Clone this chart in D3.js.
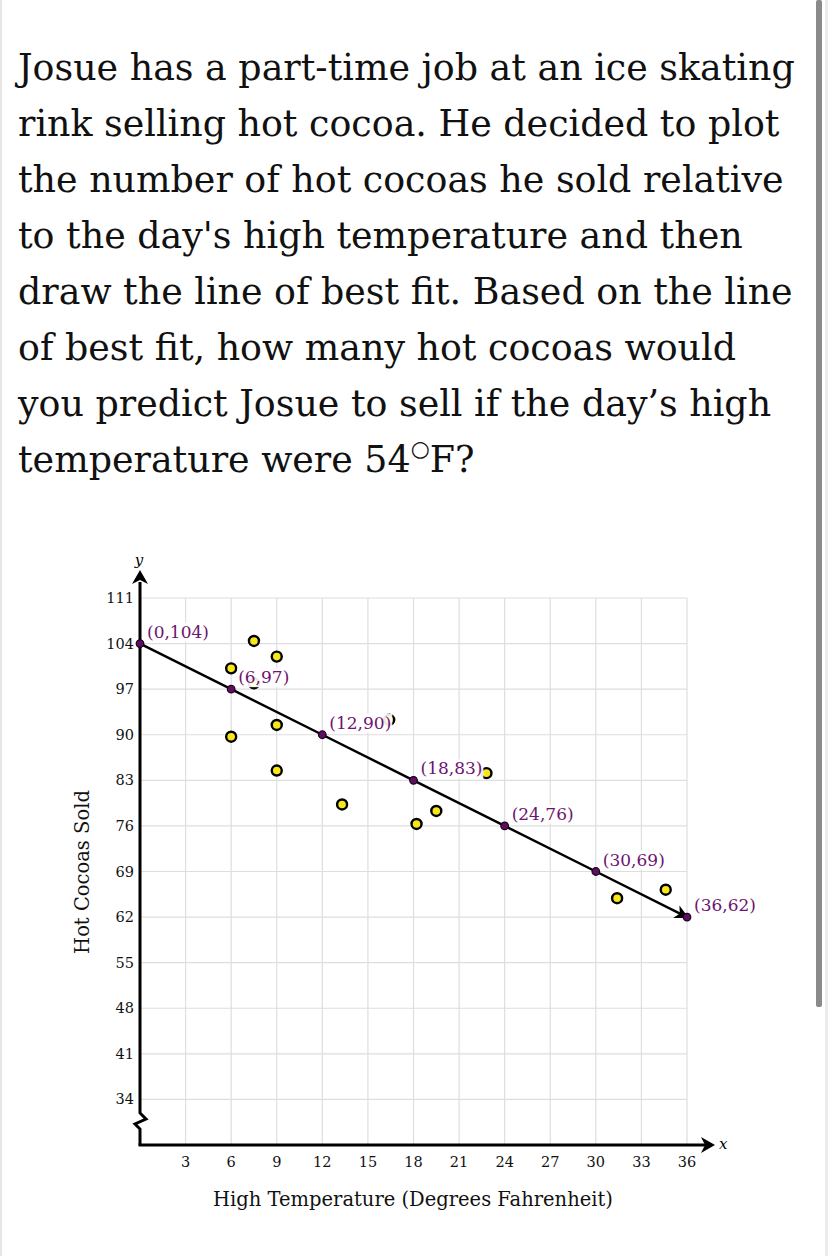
<!DOCTYPE html>
<html>
<head>
<meta charset="utf-8">
<script src="https://cdn.jsdelivr.net/npm/d3@7"></script>
<style>
  html, body { margin: 0; padding: 0; background: #fff; }
  svg { display: block; }
</style>
</head>
<body>
<svg id="chart" width="828" height="1256"></svg>
<script>
// ---- data ----
const questionLines = [
  "Josue has a part-time job at an ice skating",
  "rink selling hot cocoa. He decided to plot",
  "the number of hot cocoas he sold relative",
  "to the day's high temperature and then",
  "draw the line of best fit. Based on the line",
  "of best fit, how many hot cocoas would",
  "you predict Josue to sell if the day\u2019s high"
];
const lastLinePre = "temperature were 54";
const lastLinePost = "F?";

const xTicks = [3, 6, 9, 12, 15, 18, 21, 24, 27, 30, 33, 36];
const yTicks = [34, 41, 48, 55, 62, 69, 76, 83, 90, 97, 104, 111];

const scatterX = [6, 7.5, 9, 7.5, 9, 6, 9, 13.3, 16.4, 18.2, 19.5, 22.8, 31.4, 34.6];
const scatterY = [100.2, 104.4, 102, 97.9, 91.5, 89.7, 84.5, 79.3, 92.3, 76.3, 78.3, 84.1, 64.9, 66.2];

const fitX = [0, 6, 12, 18, 24, 30, 36];
const fitY = [104, 97, 90, 83, 76, 69, 62];
const fitLabels = ["(0,104)", "(6,97)", "(12,90)", "(18,83)", "(24,76)", "(30,69)", "(36,62)"];

const xTitle = "High Temperature (Degrees Fahrenheit)";
const yTitle = "Hot Cocoas Sold";

// ---- drawing ----
const svg = d3.select("#chart");
const SERIF = "'DejaVu Serif', 'Liberation Serif', serif";

// screen chrome: left edge + scrollbar
svg.append("rect").attr("x", 0).attr("y", 0).attr("width", 2).attr("height", 1256).attr("fill", "#e6e6e6");
svg.append("rect").attr("x", 825).attr("y", 0).attr("width", 3).attr("height", 1256).attr("fill", "#ececec");
svg.append("rect").attr("x", 816).attr("y", 0).attr("width", 6).attr("height", 1007).attr("rx", 2).attr("fill", "#8a8a8a");

// question text
const qg = svg.append("g").attr("font-family", SERIF).attr("fill", "#111");
let qSize = 36;
const probe = qg.append("text").attr("font-size", qSize).text(questionLines[0]);
const w = probe.node().getComputedTextLength();
qSize = qSize * 777 / w;
probe.remove();
const lineGap = 56, firstBase = 80;
questionLines.forEach((t, i) => {
  qg.append("text").attr("x", 18).attr("y", firstBase + i * lineGap)
    .attr("font-size", qSize).text(t);
});
const last = qg.append("text").attr("x", 18).attr("y", firstBase + 7 * lineGap).attr("font-size", qSize);
last.append("tspan").text(lastLinePre);
last.append("tspan").attr("font-size", qSize * 0.6).attr("dy", -qSize * 0.45).text("\u25CB");
last.append("tspan").attr("dy", qSize * 0.45).text(lastLinePost);

// scales
const x = d3.scaleLinear().domain([0, 36]).range([140, 687]);
const y = d3.scaleLinear().domain([27, 111]).range([1145, 598]);

// grid
const grid = svg.append("g").attr("stroke", "#dedede").attr("stroke-width", 1.2);
grid.selectAll("line.v").data(xTicks).join("line")
  .attr("x1", d => x(d)).attr("x2", d => x(d))
  .attr("y1", y(111)).attr("y2", y(27));
grid.selectAll("line.h").data(yTicks).join("line")
  .attr("x1", x(0)).attr("x2", x(36))
  .attr("y1", d => y(d)).attr("y2", d => y(d));

// y axis with break
const ax = svg.append("g");
const x0 = x(0), yb = y(27);
ax.append("path")
  .attr("d", `M${x0},${yb} L${x0},${yb - 16} L${x0 - 5},${yb - 21} L${x0 + 6},${yb - 26} L${x0},${yb - 32} L${x0},582`)
  .attr("fill", "none").attr("stroke", "#000").attr("stroke-width", 3).attr("stroke-linejoin", "miter");
ax.append("path").attr("d", `M${x0},570 L${x0 + 8},584 L${x0},580 L${x0 - 8},584 Z`).attr("fill", "#000");
ax.append("text").attr("x", x0 - 1).attr("y", 565).attr("text-anchor", "middle")
  .attr("font-family", SERIF).attr("font-style", "italic").attr("font-size", 15).text("y");

// x axis
ax.append("line").attr("x1", x0 - 1.5).attr("x2", 706).attr("y1", yb).attr("y2", yb)
  .attr("stroke", "#000").attr("stroke-width", 3);
ax.append("path").attr("d", `M715,${yb} L701,${yb - 8} L705,${yb} L701,${yb + 8} Z`).attr("fill", "#000");
ax.append("text").attr("x", 719).attr("y", yb + 4).attr("font-family", SERIF)
  .attr("font-style", "italic").attr("font-size", 15).text("x");

// tick labels
const tl = svg.append("g").attr("font-family", SERIF).attr("font-size", 14.5).attr("fill", "#111");
tl.selectAll("text.yt").data(yTicks).join("text")
  .attr("x", 134).attr("y", d => y(d) + 5).attr("text-anchor", "end").text(d => d);
tl.selectAll("text.xt").data(xTicks).join("text")
  .attr("x", d => x(d)).attr("y", yb + 22).attr("text-anchor", "middle").text(d => d);

// axis titles
svg.append("text").attr("x", 413).attr("y", 1206).attr("text-anchor", "middle")
  .attr("font-family", SERIF).attr("font-size", 19.5).attr("fill", "#111").text(xTitle);
svg.append("text").attr("transform", "translate(89,872) rotate(-90)").attr("text-anchor", "middle")
  .attr("font-family", SERIF).attr("font-size", 19.5).attr("fill", "#111").text(yTitle);

// scatter points
const sp = scatterX.map((d, i) => ({ x: d, y: scatterY[i] }));
svg.append("g").selectAll("circle").data(sp).join("circle")
  .attr("cx", d => x(d.x)).attr("cy", d => y(d.y)).attr("r", 5)
  .attr("fill", "#f7e718").attr("stroke", "#000").attr("stroke-width", 2.4);

// line of best fit
const fp = fitX.map((d, i) => ({ x: d, y: fitY[i], label: fitLabels[i] }));
const lineGen = d3.line().x(d => x(d.x)).y(d => y(d.y));
svg.append("path").datum(fp).attr("d", lineGen)
  .attr("fill", "none").attr("stroke", "#000").attr("stroke-width", 2.5);
// arrow head at end
(function () {
  const a = fp[fp.length - 2], b = fp[fp.length - 1];
  const ang = Math.atan2(y(b.y) - y(a.y), x(b.x) - x(a.x)) * 180 / Math.PI;
  svg.append("path").attr("d", "M2,0 L-12,-7 L-8,0 L-12,7 Z").attr("fill", "#000")
    .attr("transform", `translate(${x(b.x)},${y(b.y)}) rotate(${ang})`);
})();

// labels with light backgrounds
const lg = svg.append("g").attr("font-family", SERIF).attr("font-size", 17).attr("fill", "#6e1470");
fp.forEach(d => {
  const t = lg.append("text").attr("x", x(d.x) + 7).attr("y", y(d.y) - 6).text(d.label);
  const bb = t.node().getBBox();
  lg.insert("rect", () => t.node())
    .attr("x", bb.x - 1).attr("y", bb.y + 1).attr("width", bb.width + 2).attr("height", bb.height - 1)
    .attr("fill", "#fff").attr("fill-opacity", 0.9);
});

// purple points on the line
svg.append("g").selectAll("circle").data(fp).join("circle")
  .attr("cx", d => x(d.x)).attr("cy", d => y(d.y)).attr("r", 3.8)
  .attr("fill", "#5e0f60").attr("stroke", "#1a001a").attr("stroke-width", 1.2);
</script>
</body>
</html>
